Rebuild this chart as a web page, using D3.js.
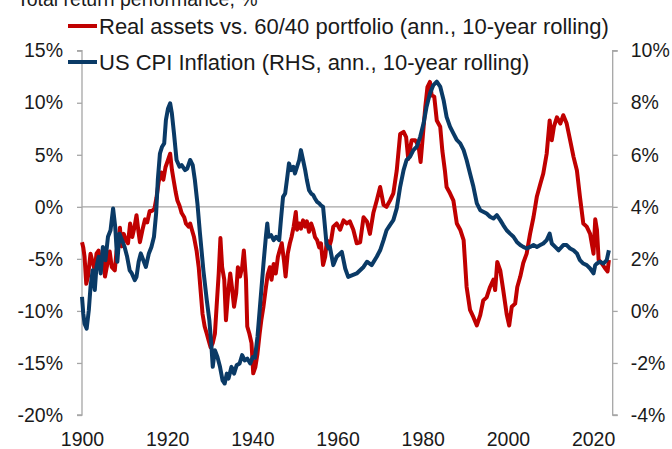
<!DOCTYPE html>
<html>
<head>
<meta charset="utf-8">
<script src="https://cdn.jsdelivr.net/npm/d3@7"></script>
<style>
  html, body { margin: 0; padding: 0; background: #fff; }
  svg { display: block; font-family: "Liberation Sans", Arial, sans-serif; }
</style>
</head>
<body>
<svg id="chart" width="672" height="449"></svg>
<script>
// Real assets vs. 60/40 portfolio, annualised 10-year rolling excess return (%, left axis)
const realYears = [
  1900.0,1900.3,1900.6,1901.0,1901.4,1902.0,1902.6,1903.0,1903.4,1903.9,1904.4,1904.9,1905.4,1905.9,1906.5,1907.0,1907.7,1908.1,1908.6,1908.9,
  1909.3,1909.8,1910.3,1910.8,1911.3,1911.8,1912.3,1912.8,1913.2,1913.6,1914.2,1914.8,1915.3,1915.9,1916.4,1917.0,1917.5,1918.0,1918.6,1919.1,
  1919.6,1920.2,1920.7,1921.1,1921.5,1922.0,1922.4,1922.9,1923.4,1924.0,1924.4,1925.0,1925.4,1925.8,1926.3,1926.9,1927.4,1927.9,1928.3,1928.8,
  1929.3,1929.7,1930.2,1930.7,1931.2,1931.6,1932.1,1932.5,1932.9,1933.4,1933.8,1934.3,1934.8,1935.2,1935.7,1936.2,1936.6,1937.1,1937.6,1938.0,
  1938.5,1938.8,1939.3,1939.8,1940.2,1940.7,1941.2,1941.7,1942.1,1942.6,1943.1,1943.6,1944.1,1944.5,1945.0,1945.5,1946.0,1946.4,1946.9,1947.4,
  1947.8,1948.3,1948.8,1949.2,1949.7,1950.2,1950.5,1951.0,1951.4,1951.9,1952.4,1952.8,1953.3,1953.8,1954.3,1954.7,1955.2,1955.7,1956.1,1956.6,
  1957.1,1957.5,1958.0,1958.5,1959.0,1959.8,1960.6,1961.4,1962.2,1962.9,1963.7,1964.5,1965.3,1966.1,1966.9,1967.6,1968.4,1969.2,1970.0,1970.8,
  1971.5,1972.3,1973.1,1973.9,1974.7,1975.5,1976.1,1976.6,1977.4,1978.2,1979.0,1979.5,1980.0,1980.6,1981.1,1981.7,1982.1,1982.7,1983.3,1984.1,
  1984.6,1985.2,1985.6,1986.4,1987.2,1988.0,1988.8,1989.6,1989.9,1990.3,1991.1,1991.9,1992.7,1993.5,1994.2,1995.0,1995.8,1996.6,1997.0,1997.5,
  1998.2,1998.9,1999.7,2000.3,2000.9,2001.7,2002.2,2002.9,2003.6,2004.4,2005.2,2006.0,2006.8,2007.6,2008.3,2009.1,2009.8,2010.3,2010.8,2011.5,
  2012.3,2013.0,2013.8,2014.6,2015.4,2016.2,2016.9,2017.7,2018.5,2019.3,2020.1,2020.5,2020.9,2021.3,2022.0,2022.8,2023.4,2023.7
];
const realValues = [
  -3.4,-3.9,-4.8,-7.4,-6.7,-4.5,-5.5,-6.1,-4.5,-4.2,-5.8,-4.5,-6.7,-5.6,-4.3,-5.8,-6.1,-4.3,-3.2,-2.0,
  -3.8,-2.6,-3.2,-3.5,-1.6,-2.9,-2.0,-0.8,-2.2,-3.4,-2.2,-1.2,-1.5,-0.4,-0.4,-0.2,0.9,2.4,3.3,2.6,
  3.8,4.5,5.1,3.6,2.6,1.4,0.6,0.1,-0.6,-1.0,-1.6,-1.9,-1.6,-2.2,-2.9,-4.2,-5.8,-8.3,-10.3,-11.5,
  -12.2,-12.8,-13.5,-13.1,-12.2,-9.6,-6.4,-3.0,-5.8,-7.0,-10.9,-8.3,-6.4,-7.7,-9.6,-8.3,-5.8,-6.7,-5.8,-4.2,
  -7.0,-11.5,-12.2,-13.1,-16.0,-15.4,-14.1,-12.2,-10.9,-9.6,-8.0,-6.5,-5.8,-7.0,-5.5,-6.4,-4.8,-4.2,-3.5,-5.1,
  -6.7,-4.5,-3.5,-2.9,-1.9,-0.5,-2.2,-1.6,-2.1,-1.3,-1.9,-1.4,-2.4,-1.6,-2.2,-2.9,-3.2,-3.9,-3.5,-5.6,
  -4.8,-3.2,-3.9,-3.2,-1.9,-1.6,-2.2,-1.3,-1.6,-1.4,-2.2,-3.5,-3.4,-1.0,-1.4,-2.6,-0.6,0.6,1.9,0.2,
  0.0,0.6,1.3,3.5,7.0,7.2,6.7,4.6,6.4,6.4,5.9,4.3,6.7,9.6,11.5,12.0,10.7,10.6,8.3,7.7,
  5.4,3.5,1.9,1.3,0.6,-1.6,-2.2,-3.2,-5.1,-7.7,-9.9,-10.6,-11.4,-10.4,-9.0,-8.7,-7.7,-7.0,-8.0,-5.3,
  -6.1,-8.0,-10.3,-11.4,-9.6,-9.3,-7.7,-6.7,-5.4,-4.5,-2.6,-1.0,1.0,2.2,3.2,5.1,8.3,6.4,7.7,8.6,
  8.0,8.8,8.0,6.4,4.8,3.5,1.0,-1.6,-1.9,-2.6,-4.5,-1.2,-2.2,-5.1,-5.4,-5.9,-6.2,-5.1
];

// US CPI inflation, annualised 10-year rolling (%, right axis)
const cpiYears = [
  1900.0,1900.3,1900.6,1901.1,1901.6,1902.0,1902.5,1903.0,1903.4,1903.9,1904.4,1904.9,1905.5,1906.1,1906.7,1907.3,1907.8,1908.3,1908.8,1909.4,
  1910.0,1910.6,1911.2,1911.7,1912.4,1912.8,1913.3,1913.8,1914.4,1915.0,1915.7,1916.3,1916.9,1917.4,1917.8,1918.3,1918.8,1919.3,1919.7,1920.2,
  1920.7,1921.1,1921.6,1922.2,1922.9,1923.4,1924.2,1924.7,1925.4,1926.0,1926.5,1927.1,1927.7,1928.5,1929.3,1929.9,1930.4,1930.7,1931.2,1931.8,
  1932.4,1933.0,1933.5,1934.0,1934.4,1935.1,1935.7,1936.3,1937.0,1937.6,1938.2,1938.8,1939.5,1940.1,1940.6,1941.2,1941.9,1942.6,1943.2,1943.5,
  1943.8,1944.4,1945.0,1945.6,1946.3,1946.7,1947.2,1947.7,1948.2,1948.6,1949.1,1949.6,1950.0,1950.5,1951.0,1951.4,1951.9,1952.4,1952.8,1953.3,
  1953.8,1954.3,1954.7,1955.2,1955.7,1956.1,1956.6,1956.9,1957.4,1957.9,1958.2,1959.0,1959.8,1961.0,1961.8,1962.5,1964.5,1966.1,1966.9,1968.0,
  1969.2,1970.0,1970.8,1971.5,1972.3,1973.1,1973.9,1974.7,1975.5,1976.2,1977.0,1977.8,1978.6,1979.4,1980.2,1980.9,1981.7,1982.5,1983.3,1984.1,
  1984.9,1985.6,1986.4,1987.2,1988.0,1988.8,1989.6,1990.3,1991.1,1991.9,1992.7,1993.5,1994.2,1995.0,1995.8,1996.6,1997.4,1998.2,1998.9,1999.7,
  2000.5,2001.3,2002.1,2002.9,2003.6,2004.4,2005.2,2006.0,2006.8,2007.6,2008.3,2009.1,2009.8,2010.3,2011.1,2011.9,2013.0,2013.8,2014.6,2015.4,
  2016.2,2016.9,2017.7,2018.5,2019.3,2020.1,2020.5,2020.9,2021.6,2022.4,2023.2,2023.7
];
const cpiValues = [
  0.54,-0.10,-0.49,-0.68,0.03,0.92,1.56,0.80,1.69,2.08,1.44,2.46,1.95,2.85,3.10,3.94,3.23,1.89,2.97,2.72,
  2.46,2.08,1.56,1.44,1.18,1.31,1.89,2.21,1.95,1.69,2.21,2.46,2.85,3.74,5.03,6.05,6.31,6.44,7.33,7.78,
  7.98,7.59,6.82,5.80,5.54,5.60,5.41,5.47,5.80,5.60,5.03,4.13,2.97,1.56,0.41,-0.36,-1.38,-2.15,-1.51,-1.77,
  -2.15,-2.67,-2.79,-2.41,-2.60,-2.15,-2.41,-2.09,-2.02,-1.70,-1.90,-1.83,-2.02,-1.77,-1.80,-1.00,0.40,1.80,2.90,3.36,
  2.85,2.91,2.72,2.85,2.72,3.49,4.38,4.51,5.15,5.67,5.41,5.54,5.28,5.54,5.80,6.18,5.80,5.41,5.03,4.64,
  4.51,4.45,4.32,4.19,4.13,4.06,4.00,3.49,2.59,2.40,2.46,1.76,2.08,2.27,1.63,1.31,1.44,1.69,1.89,1.76,
  2.08,2.33,2.72,3.10,3.30,3.49,3.94,4.77,5.41,5.80,5.92,6.18,6.31,6.69,7.21,7.85,8.36,8.68,8.81,8.62,
  8.10,7.46,7.08,6.82,6.57,6.44,6.18,5.80,5.28,4.77,4.13,3.87,3.81,3.74,3.62,3.55,3.68,3.49,3.30,3.10,
  2.97,2.85,2.65,2.53,2.46,2.40,2.46,2.53,2.46,2.53,2.59,2.72,2.97,2.59,2.46,2.33,2.53,2.53,2.40,2.33,
  2.21,1.95,1.82,1.76,1.63,1.44,1.76,1.82,1.89,1.82,1.95,2.33
];

const xTicks = [1900, 1920, 1940, 1960, 1980, 2000, 2020];
const leftTicks = [-20, -15, -10, -5, 0, 5, 10, 15];
const rightTicks = [-4, -2, 0, 2, 4, 6, 8, 10];
const seriesNames = [
  "Real assets vs. 60/40 portfolio (ann., 10-year rolling)",
  "US CPI Inflation (RHS, ann., 10-year rolling)"
];
const titleText = "Total return performance, %";

const RED = "#C00000";
const NAVY = "#0A3A66";
const AXIS = "#A6A6A6";
const TICK_FONT = 19.5;
const LEGEND_FONT = 22;

const svg = d3.select("#chart");
const plot = { left: 82, right: 612.7, top: 50.7, bottom: 415 };

const x = d3.scaleLinear().domain([1900, 2024.6]).range([plot.left, plot.right]);
const yL = d3.scaleLinear().domain([-20, 15]).range([plot.bottom, plot.top]);
const yR = d3.scaleLinear().domain([-4, 10]).range([plot.bottom, plot.top]);

// Left axis
const leftAxis = svg.append("g")
  .attr("transform", `translate(${plot.left},0)`)
  .call(d3.axisLeft(yL).tickValues(leftTicks).tickSize(5).tickPadding(14)
    .tickFormat(d => d + "%"));
// Right axis
const rightAxis = svg.append("g")
  .attr("transform", `translate(${plot.right},0)`)
  .call(d3.axisRight(yR).tickValues(rightTicks).tickSize(5).tickPadding(13)
    .tickFormat(d => d + "%"));
// Bottom labels (no axis line)
const bottomAxis = svg.append("g")
  .attr("transform", `translate(0,${plot.bottom})`)
  .call(d3.axisBottom(x).tickValues(xTicks).tickSize(0).tickPadding(17)
    .tickFormat(d3.format("d")));
bottomAxis.select(".domain").remove();

[leftAxis, rightAxis, bottomAxis].forEach(g => {
  g.selectAll(".domain").attr("stroke", AXIS).attr("stroke-width", 1.3);
  g.selectAll(".tick line").attr("stroke", AXIS).attr("stroke-width", 1.3);
  g.selectAll(".tick text")
    .attr("fill", "#1a1a1a")
    .style("font-size", TICK_FONT + "px")
    .style("font-family", '"Liberation Sans", Arial, sans-serif');
});
leftAxis.select(".domain").attr("d", `M-5,${plot.top}H0V${plot.bottom}H-5`);
rightAxis.select(".domain").attr("d", `M5,${plot.top}H0V${plot.bottom}H5`);

// Zero line
svg.append("line")
  .attr("x1", plot.left).attr("x2", plot.right)
  .attr("y1", yL(0)).attr("y2", yL(0))
  .attr("stroke", AXIS).attr("stroke-width", 1.3);

// Series
const realData = realYears.map((yr, i) => [yr, realValues[i]]);
const cpiData = cpiYears.map((yr, i) => [yr, cpiValues[i]]);

svg.append("path")
  .datum(realData)
  .attr("fill", "none")
  .attr("stroke", RED)
  .attr("stroke-width", 4)
  .attr("stroke-linejoin", "round")
  .attr("d", d3.line().x(d => x(d[0])).y(d => yL(d[1])));

svg.append("path")
  .datum(cpiData)
  .attr("fill", "none")
  .attr("stroke", NAVY)
  .attr("stroke-width", 4)
  .attr("stroke-linejoin", "round")
  .attr("d", d3.line().x(d => x(d[0])).y(d => yR(d[1])));

// Title, running off the top edge
svg.append("text")
  .attr("x", 17).attr("y", 6)
  .attr("fill", "#1a1a1a")
  .style("font-size", TICK_FONT + "px")
  .text(titleText);

// Legend
const legend = svg.append("g");
[[RED, 26], [NAVY, 62]].forEach(([c, ly], i) => {
  legend.append("line")
    .attr("x1", 68).attr("x2", 97).attr("y1", ly).attr("y2", ly)
    .attr("stroke", c).attr("stroke-width", 4);
  legend.append("text")
    .attr("x", 99).attr("y", ly).attr("dy", "0.35em")
    .attr("fill", "#1a1a1a")
    .style("font-size", LEGEND_FONT + "px")
    .text(seriesNames[i]);
});
</script>
</body>
</html>
